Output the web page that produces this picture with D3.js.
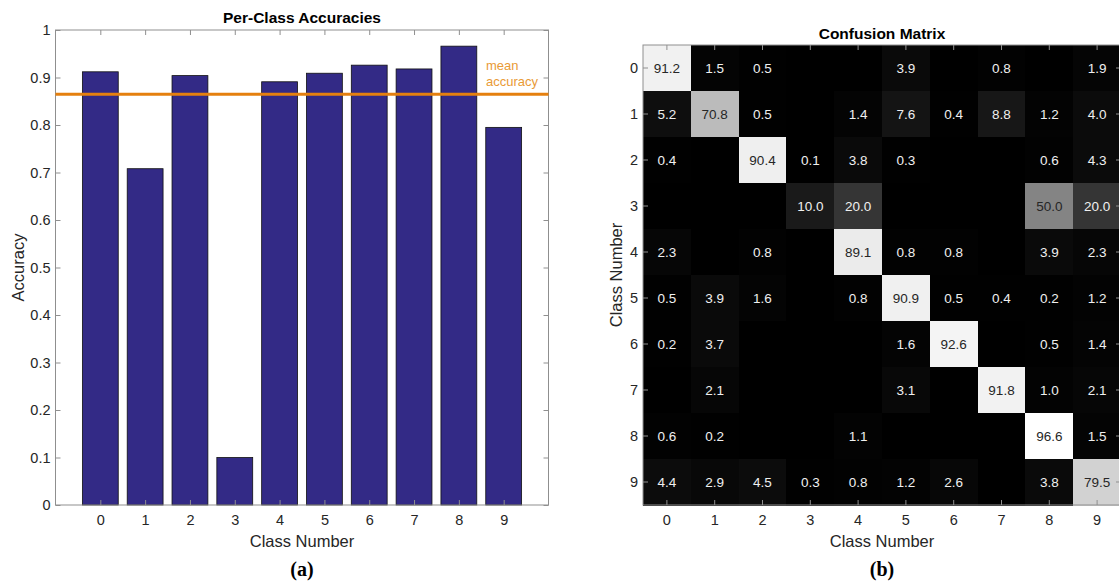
<!DOCTYPE html>
<html>
<head>
<meta charset="utf-8">
<script src="https://cdn.jsdelivr.net/npm/d3@7/dist/d3.min.js"></script>
<style>
  html, body { margin: 0; padding: 0; background: #fff; }
  svg { display: block; }
  text { font-family: "Liberation Sans", Arial, sans-serif; }
</style>
</head>
<body>
<svg id="chart" width="1119" height="583"></svg>
<script>
// ---- data ----
const classes = [0, 1, 2, 3, 4, 5, 6, 7, 8, 9];
const accuracies = [0.912, 0.708, 0.904, 0.100, 0.891, 0.909, 0.926, 0.918, 0.966, 0.795];
const meanAccuracy = 0.865;
const accuracyTicks = [0, 0.1, 0.2, 0.3, 0.4, 0.5, 0.6, 0.7, 0.8, 0.9, 1];

// rows = true class, columns = predicted class (percent)
const confusionRows = [
  [91.2, 1.5, 0.5, 0, 0, 3.9, 0, 0.8, 0, 1.9],
  [5.2, 70.8, 0.5, 0, 1.4, 7.6, 0.4, 8.8, 1.2, 4.0],
  [0.4, 0, 90.4, 0.1, 3.8, 0.3, 0, 0, 0.6, 4.3],
  [0, 0, 0, 10.0, 20.0, 0, 0, 0, 50.0, 20.0],
  [2.3, 0, 0.8, 0, 89.1, 0.8, 0.8, 0, 3.9, 2.3],
  [0.5, 3.9, 1.6, 0, 0.8, 90.9, 0.5, 0.4, 0.2, 1.2],
  [0.2, 3.7, 0, 0, 0, 1.6, 92.6, 0, 0.5, 1.4],
  [0, 2.1, 0, 0, 0, 3.1, 0, 91.8, 1.0, 2.1],
  [0.6, 0.2, 0, 0, 1.1, 0, 0, 0, 96.6, 1.5],
  [4.4, 2.9, 4.5, 0.3, 0.8, 1.2, 2.6, 0, 3.8, 79.5]
];

const svg = d3.select("#chart");
const axisColor = "#8f8f8f";
const textColor = "#262626";
const tickLen = 5;
const tickFont = "14.5px";
const labelFont = "16.5px";
const titleFont = "15.5px";

function styleAxis(g) {
  g.select(".domain").remove();
  g.selectAll(".tick line").attr("stroke", axisColor);
  g.selectAll(".tick text").attr("fill", textColor).style("font-size", tickFont);
}

// ================= (a) Per-class accuracies =================
const A = { left: 55.5, right: 548.5, top: 30, bottom: 505 };
const xA = d3.scaleLinear().domain([-1, 10]).range([A.left, A.right]);
const yA = d3.scaleLinear().domain([0, 1]).range([A.bottom, A.top]);
const gA = svg.append("g");

// bars
gA.selectAll("rect.bar")
  .data(classes)
  .join("rect")
  .attr("class", "bar")
  .attr("x", d => xA(d - 0.4))
  .attr("width", d => xA(d + 0.4) - xA(d - 0.4))
  .attr("y", (d, i) => yA(accuracies[i]))
  .attr("height", (d, i) => yA(0) - yA(accuracies[i]))
  .attr("fill", "#332a86")
  .attr("stroke", "#111")
  .attr("stroke-width", 0.8);

// axes (box with inward ticks on all sides)
gA.append("g")
  .attr("transform", `translate(0,${A.bottom})`)
  .call(d3.axisBottom(xA).tickValues(classes).tickSizeInner(-tickLen).tickSizeOuter(0).tickPadding(10).tickFormat(d3.format("d")))
  .call(styleAxis);
gA.append("g")
  .attr("transform", `translate(0,${A.top})`)
  .call(d3.axisTop(xA).tickValues(classes).tickSizeInner(-tickLen).tickSizeOuter(0).tickFormat(""))
  .call(styleAxis);
gA.append("g")
  .attr("transform", `translate(${A.left},0)`)
  .call(d3.axisLeft(yA).tickValues(accuracyTicks).tickSizeInner(-tickLen).tickSizeOuter(0).tickPadding(5).tickFormat(d => d === 0 ? "0" : d === 1 ? "1" : d3.format(".1f")(d)))
  .call(styleAxis);
gA.append("g")
  .attr("transform", `translate(${A.right},0)`)
  .call(d3.axisRight(yA).tickValues(accuracyTicks).tickSizeInner(-tickLen).tickSizeOuter(0).tickFormat(""))
  .call(styleAxis);
gA.append("rect")
  .attr("x", A.left).attr("y", A.top)
  .attr("width", A.right - A.left).attr("height", A.bottom - A.top)
  .attr("fill", "none").attr("stroke", axisColor).attr("stroke-width", 1);

// mean accuracy line
gA.append("line")
  .attr("x1", A.left).attr("x2", A.right)
  .attr("y1", yA(meanAccuracy)).attr("y2", yA(meanAccuracy))
  .attr("stroke", "#e5800f").attr("stroke-width", 3);
gA.append("text")
  .attr("x", 486).attr("y", yA(meanAccuracy) - 24)
  .attr("fill", "#e99a36").style("font-size", "13px")
  .text("mean");
gA.append("text")
  .attr("x", 486).attr("y", yA(meanAccuracy) - 8)
  .attr("fill", "#e99a36").style("font-size", "13px")
  .text("accuracy");

// titles and labels
gA.append("text")
  .attr("x", (A.left + A.right) / 2).attr("y", 23)
  .attr("text-anchor", "middle").attr("fill", "#000")
  .style("font-size", titleFont).style("font-weight", "bold")
  .text("Per-Class Accuracies");
gA.append("text")
  .attr("x", (A.left + A.right) / 2).attr("y", 547)
  .attr("text-anchor", "middle").attr("fill", textColor)
  .style("font-size", labelFont)
  .text("Class Number");
gA.append("text")
  .attr("transform", `translate(24,${(A.top + A.bottom) / 2}) rotate(-90)`)
  .attr("text-anchor", "middle").attr("fill", textColor)
  .style("font-size", labelFont)
  .text("Accuracy");
gA.append("text")
  .attr("x", (A.left + A.right) / 2).attr("y", 576)
  .attr("text-anchor", "middle").attr("fill", "#000")
  .style("font-family", "'Liberation Serif', 'DejaVu Serif', serif")
  .style("font-size", "20px").style("font-weight", "bold")
  .text("(a)");

// ================= (b) Confusion matrix =================
const B = { left: 643, right: 1121, top: 45, bottom: 505 };
const xB = d3.scaleBand().domain(classes).range([B.left, B.right]);
const yB = d3.scaleBand().domain(classes).range([B.top, B.bottom]);
const maxVal = d3.max(confusionRows.flat());
const gray = d3.scaleLinear().domain([0, maxVal]).range(["#000000", "#ffffff"]);
const gB = svg.append("g");

const cells = confusionRows.flatMap((row, r) => row.map((v, c) => ({ r, c, v })));

gB.selectAll("rect.cell")
  .data(cells)
  .join("rect")
  .attr("class", "cell")
  .attr("x", d => xB(d.c))
  .attr("y", d => yB(d.r))
  .attr("width", xB.bandwidth() + 0.5)
  .attr("height", yB.bandwidth() + 0.5)
  .attr("shape-rendering", "crispEdges")
  .attr("fill", d => gray(d.v));

gB.selectAll("text.val")
  .data(cells.filter(d => d.v > 0))
  .join("text")
  .attr("class", "val")
  .attr("x", d => xB(d.c) + xB.bandwidth() / 2)
  .attr("y", d => yB(d.r) + yB.bandwidth() / 2)
  .attr("dy", "0.35em")
  .attr("text-anchor", "middle")
  .attr("fill", d => d.v >= 45 ? "#262626" : "#f0f0f0")
  .style("font-size", "13.5px")
  .text(d => d3.format(".1f")(d.v));

gB.append("g")
  .attr("transform", `translate(0,${B.bottom})`)
  .call(d3.axisBottom(xB).tickSizeInner(-tickLen).tickSizeOuter(0).tickPadding(10))
  .call(styleAxis);
gB.append("g")
  .attr("transform", `translate(0,${B.top})`)
  .call(d3.axisTop(xB).tickSizeInner(-tickLen).tickSizeOuter(0).tickFormat(""))
  .call(styleAxis);
gB.append("g")
  .attr("transform", `translate(${B.left},0)`)
  .call(d3.axisLeft(yB).tickSizeInner(-tickLen).tickSizeOuter(0).tickPadding(5))
  .call(styleAxis);
gB.append("g")
  .attr("transform", `translate(${B.right},0)`)
  .call(d3.axisRight(yB).tickSizeInner(-tickLen).tickSizeOuter(0).tickFormat(""))
  .call(styleAxis);
gB.append("rect")
  .attr("x", B.left).attr("y", B.top)
  .attr("width", B.right - B.left).attr("height", B.bottom - B.top)
  .attr("fill", "none").attr("stroke", axisColor).attr("stroke-width", 1);

gB.append("text")
  .attr("x", (B.left + B.right) / 2).attr("y", 39)
  .attr("text-anchor", "middle").attr("fill", "#000")
  .style("font-size", titleFont).style("font-weight", "bold")
  .text("Confusion Matrix");
gB.append("text")
  .attr("x", (B.left + B.right) / 2).attr("y", 547)
  .attr("text-anchor", "middle").attr("fill", textColor)
  .style("font-size", labelFont)
  .text("Class Number");
gB.append("text")
  .attr("transform", `translate(622,${(B.top + B.bottom) / 2}) rotate(-90)`)
  .attr("text-anchor", "middle").attr("fill", textColor)
  .style("font-size", labelFont)
  .text("Class Number");
gB.append("text")
  .attr("x", (B.left + B.right) / 2).attr("y", 576)
  .attr("text-anchor", "middle").attr("fill", "#000")
  .style("font-family", "'Liberation Serif', 'DejaVu Serif', serif")
  .style("font-size", "20px").style("font-weight", "bold")
  .text("(b)");
</script>
</body>
</html>
